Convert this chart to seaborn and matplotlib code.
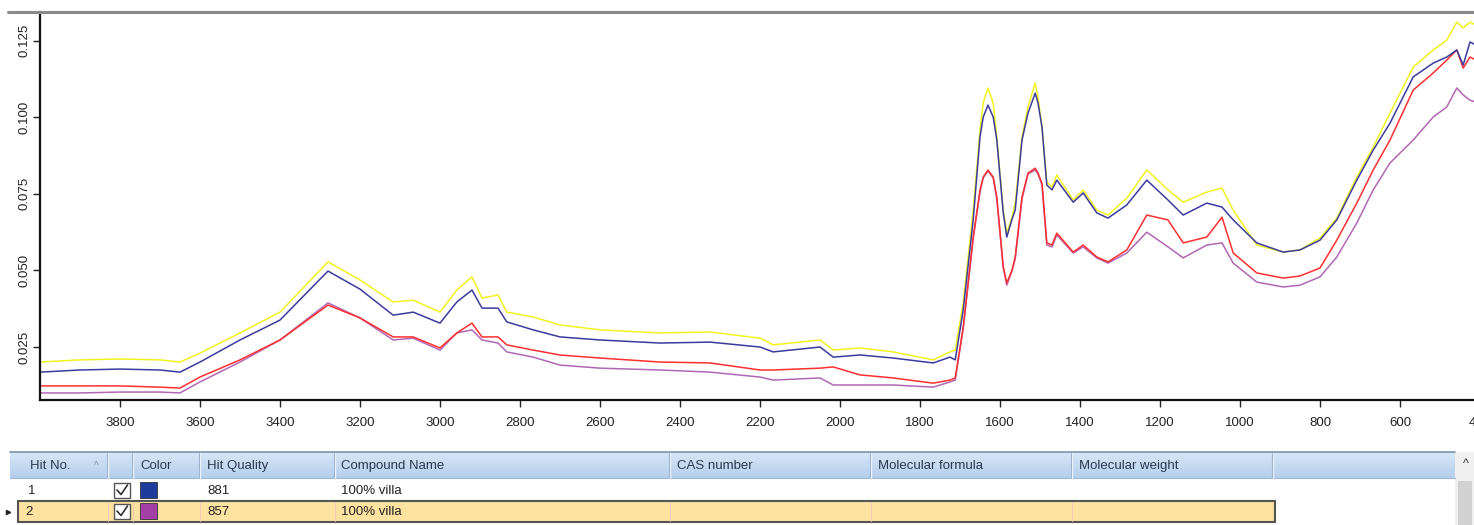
import numpy as np
import pandas as pd
import matplotlib
matplotlib.use("Agg")
import matplotlib.pyplot as plt
from matplotlib.lines import Line2D
from matplotlib.patches import Rectangle
import seaborn as sns

# ---------------- data ----------------
wavenumber = [4000, 3900, 3800, 3700, 3650, 3600, 3500, 3400, 3280, 3200,
              3117, 3067, 3000, 2958, 2920, 2895, 2855, 2833, 2767, 2700,
              2600, 2450, 2325, 2200, 2167, 2050, 2017, 1950, 1867, 1767,
              1725, 1712, 1692, 1667, 1650, 1642, 1630, 1617, 1608, 1592,
              1583, 1570, 1562, 1545, 1530, 1512, 1505, 1495, 1483, 1470,
              1458, 1417, 1392, 1358, 1330, 1283,
              1233, 1180, 1142, 1083, 1045, 1017, 958, 892, 850, 800,
              758, 708, 667, 625, 567, 517, 483, 458, 442, 425, 410]

yellow_abs = [0.0201, 0.0208, 0.0211, 0.0208, 0.0201, 0.0230, 0.0296, 0.0364, 0.0528, 0.0469,
              0.0397, 0.0403, 0.0364, 0.0436, 0.0479, 0.0410, 0.0420, 0.0364, 0.0348, 0.0322,
              0.0306, 0.0296, 0.0299, 0.0279, 0.0257, 0.0273, 0.0240, 0.0247, 0.0234, 0.0208,
              0.0234, 0.0240, 0.0394, 0.0697, 0.0958, 0.1047, 0.1096, 0.1047, 0.0936, 0.0697,
              0.0622, 0.0674, 0.0720, 0.0936, 0.1034, 0.1112, 0.1066, 0.0968, 0.0789, 0.0772,
              0.0812, 0.0730, 0.0763, 0.0697, 0.0681, 0.0736,
              0.0828, 0.0763, 0.0723, 0.0756, 0.0769, 0.0697, 0.0583, 0.0560, 0.0567, 0.0606,
              0.0671, 0.0805, 0.0903, 0.1014, 0.1164, 0.1220, 0.1252, 0.1311, 0.1292, 0.1311, 0.1301]

blue_abs = [0.0168, 0.0175, 0.0178, 0.0175, 0.0168, 0.0201, 0.0273, 0.0338, 0.0498, 0.0439,
            0.0354, 0.0364, 0.0328, 0.0397, 0.0436, 0.0377, 0.0377, 0.0332, 0.0306, 0.0283,
            0.0273, 0.0263, 0.0266, 0.0250, 0.0234, 0.0250, 0.0217, 0.0224, 0.0214, 0.0198,
            0.0217, 0.0208, 0.0371, 0.0665, 0.0936, 0.1001, 0.1040, 0.1001, 0.0926, 0.0690,
            0.0609, 0.0667, 0.0697, 0.0926, 0.1014, 0.1079, 0.1047, 0.0968, 0.0779, 0.0763,
            0.0795, 0.0723, 0.0753, 0.0688, 0.0671, 0.0714,
            0.0795, 0.0730, 0.0681, 0.0720, 0.0707, 0.0665, 0.0590, 0.0560, 0.0567, 0.0599,
            0.0665, 0.0795, 0.0893, 0.0981, 0.1132, 0.1177, 0.1197, 0.1220, 0.1171, 0.1246, 0.1236]

red_abs = [0.0123, 0.0123, 0.0123, 0.0119, 0.0116, 0.0152, 0.0208, 0.0273, 0.0387, 0.0345,
           0.0283, 0.0283, 0.0247, 0.0296, 0.0328, 0.0283, 0.0283, 0.0257, 0.0240, 0.0224,
           0.0214, 0.0201, 0.0198, 0.0175, 0.0175, 0.0181, 0.0185, 0.0159, 0.0149, 0.0132,
           0.0142, 0.0149, 0.0315, 0.0609, 0.0763, 0.0805, 0.0828, 0.0805, 0.0740, 0.0513,
           0.0459, 0.0501, 0.0544, 0.0740, 0.0818, 0.0834, 0.0818, 0.0785, 0.0590, 0.0583,
           0.0622, 0.0560, 0.0583, 0.0544, 0.0528, 0.0567,
           0.0681, 0.0665, 0.0590, 0.0609, 0.0674, 0.0557, 0.0492, 0.0475, 0.0482, 0.0508,
           0.0599, 0.0720, 0.0828, 0.0926, 0.1089, 0.1145, 0.1187, 0.1220, 0.1161, 0.1197, 0.1187]

purple_abs = [0.0100, 0.0100, 0.0103, 0.0103, 0.0100, 0.0136, 0.0201, 0.0273, 0.0394, 0.0345,
              0.0273, 0.0279, 0.0240, 0.0296, 0.0306, 0.0273, 0.0263, 0.0234, 0.0217, 0.0191,
              0.0181, 0.0175, 0.0168, 0.0152, 0.0142, 0.0149, 0.0126, 0.0126, 0.0126, 0.0119,
              0.0136, 0.0142, 0.0309, 0.0603, 0.0756, 0.0802, 0.0825, 0.0802, 0.0733, 0.0510,
              0.0452, 0.0498, 0.0537, 0.0733, 0.0815, 0.0828, 0.0815, 0.0779, 0.0583, 0.0577,
              0.0616, 0.0557, 0.0577, 0.0541, 0.0524, 0.0557,
              0.0625, 0.0577, 0.0541, 0.0583, 0.0590, 0.0524, 0.0462, 0.0446, 0.0452, 0.0479,
              0.0544, 0.0655, 0.0763, 0.0851, 0.0926, 0.1001, 0.1034, 0.1096, 0.1073, 0.1056, 0.1050]

x_ticks = [3800, 3600, 3400, 3200, 3000, 2800, 2600, 2400, 2200, 2000,
           1800, 1600, 1400, 1200, 1000, 800, 600, 400]
y_ticks = [0.025, 0.050, 0.075, 0.100, 0.125]

# table content
table_headers = ["Hit No.", "", "Color", "Hit Quality", "Compound Name",
                 "CAS number", "Molecular formula", "Molecular weight", ""]
hit_numbers = ["1", "2"]
hit_quality = ["881", "857"]
compound_names = ["100% villa", "100% villa"]
swatch_colors = ["#1f3c9c", "#a53fa8"]

# ---------------- style ----------------
W, H = 1474, 525
sns.set_style("white")
plt.rcParams["font.family"] = ["Liberation Sans Narrow", "Liberation Sans", "DejaVu Sans"]

fig = plt.figure(figsize=(W / 100, H / 100), dpi=100)

# ---------------- spectrum axes ----------------
ax = fig.add_axes([40 / W, (H - 400) / H, 1440 / W, 388 / H])
series = [("yellow", yellow_abs, "#f2f21e"),
          ("purple", purple_abs, "#b267b4"),
          ("red", red_abs, "#ff2f2f"),
          ("blue", blue_abs, "#3b3b9e")]
for name, vals, col in series:
    df = pd.DataFrame({"wn": wavenumber, "abs": vals})
    sns.lineplot(data=df, x="wn", y="abs", estimator=None, sort=False,
                 color=col, lw=1.1, ax=ax, legend=False)

ax.set_xlim(4000, 400)
ax.set_ylim(0.0077, 0.1344)
ax.set_xticks(x_ticks)
ax.set_xticklabels([str(t) for t in x_ticks])
ax.set_yticks(y_ticks)
ax.set_yticklabels([f"{t:.3f}" for t in y_ticks], rotation=90, va="center")
ax.set_xlabel("")
ax.set_ylabel("")
ax.tick_params(axis="x", direction="out", length=5, width=1, colors="#222222",
               labelsize=9.5, pad=7, bottom=True)
ax.tick_params(axis="y", direction="out", length=5, width=1, colors="#222222",
               labelsize=9.5, pad=2, left=True)
for s in ["top", "right"]:
    ax.spines[s].set_visible(False)
for s in ["left", "bottom"]:
    ax.spines[s].set_color("#111111")
    ax.spines[s].set_linewidth(1.6)
ax.grid(False)

# top border line of the plot panel
fig.add_artist(Line2D([8 / W, 1.0], [1 - 12 / H, 1 - 12 / H], color="#8a8a8a", lw=2.2))

# ---------------- result table ----------------
tax = fig.add_axes([0, 0, 1, 1])
tax.set_xlim(0, W)
tax.set_ylim(H, 0)
tax.axis("off")

col_x = [10, 108, 133, 200, 335, 670, 871, 1072, 1273, 1455]
text_x = [30, None, 140, 207, 341, 677, 878, 1079, None]
hdr_top, hdr_bot = 452, 478

# header gradient
grad = np.linspace(0, 1, 30).reshape(-1, 1)
tax.imshow(grad, extent=[10, 1455, hdr_bot, hdr_top], aspect="auto",
           cmap=matplotlib.colors.LinearSegmentedColormap.from_list("h", ["#d6e6f7", "#b5cfec"]),
           zorder=1)
tax.add_line(Line2D([10, 1455], [hdr_top, hdr_top], color="#7d93ad", lw=1.2, zorder=3))
tax.add_line(Line2D([10, 1455], [hdr_bot, hdr_bot], color="#9fb7d3", lw=0.8, zorder=3))
for cx in col_x[1:-1]:
    tax.add_line(Line2D([cx, cx], [hdr_top + 1, hdr_bot], color="#eef4fb", lw=1.0, zorder=3))
    tax.add_line(Line2D([cx - 1, cx - 1], [hdr_top + 1, hdr_bot], color="#9db4cf", lw=0.8, zorder=3))
for lbl, tx in zip(table_headers, text_x):
    if tx is not None and lbl:
        tax.text(tx, (hdr_top + hdr_bot) / 2 + 1, lbl, fontsize=9.5, color="#2b3a4f",
                 va="center", ha="left", zorder=4)
tax.text(96, 466, "^", fontsize=7, color="#7b8fa8", ha="center", va="center", zorder=4)

# rows
row_tops = [480, 501]
row_h = [20, 21]
for i in range(2):
    y0 = row_tops[i]
    yc = y0 + row_h[i] / 2 + 0.5
    if i == 1:
        tax.add_patch(Rectangle((18, y0), 1257, row_h[i], facecolor="#fde39f",
                                edgecolor="#555555", lw=1.5, zorder=2))
        for cx in [108, 133, 200, 335, 670, 871, 1072]:
            tax.add_line(Line2D([cx, cx], [y0 + 1, y0 + row_h[i] - 1], color="#f3c9b8",
                                lw=0.8, zorder=3))
        tax.plot([8], [yc], marker=">", ms=3, color="#222222", zorder=4)
    tax.text(28 if i == 0 else 25, yc, hit_numbers[i], fontsize=9.5, color="#222222",
             va="center", ha="left", zorder=4)
    # checkbox
    tax.add_patch(Rectangle((114, y0 + 2.5), 16, 15, facecolor="white",
                            edgecolor="#555555", lw=1.0, zorder=4))
    tax.add_line(Line2D([117, 121, 127.5], [y0 + 10, y0 + 14.5, y0 + 5],
                        color="#333333", lw=1.2, zorder=5))
    # colour swatch
    tax.add_patch(Rectangle((140, y0 + 2), 17, 16, facecolor=swatch_colors[i],
                            edgecolor="#333333", lw=0.6, zorder=4))
    tax.text(207, yc, hit_quality[i], fontsize=9.5, color="#222222",
             va="center", ha="left", zorder=4)
    tax.text(341, yc, compound_names[i], fontsize=9.5, color="#222222",
             va="center", ha="left", zorder=4)

# scrollbar
tax.add_patch(Rectangle((1455, 452), 19, 73, facecolor="#f0f0f0", edgecolor="none", zorder=1))
tax.add_patch(Rectangle((1458, 481), 14, 44, facecolor="#d2d2d2", edgecolor="none", zorder=2))
tax.text(1466, 464, "^", fontsize=9, color="#333333", ha="center", va="center", zorder=4)

fig.savefig("out.png", dpi=100, facecolor="white")
